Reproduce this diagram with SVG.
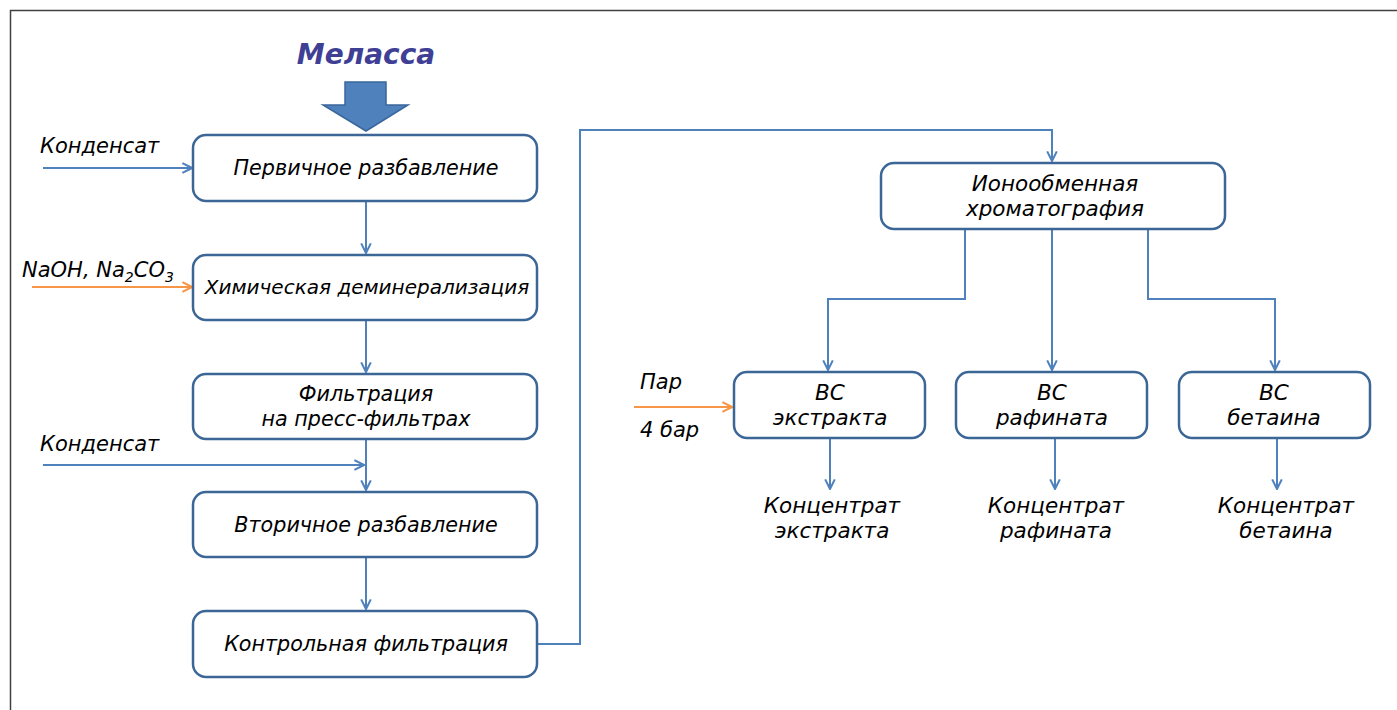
<svg xmlns="http://www.w3.org/2000/svg" width="1397" height="710" viewBox="0 0 1397 710">
<style>
.box{fill:#fff;stroke:#3b6696;stroke-width:2.5}
.t{font-family:"DejaVu Sans","Liberation Sans",sans-serif;font-style:italic;font-size:20.7px;fill:#000;text-anchor:middle}
.tb{font-family:"DejaVu Sans","Liberation Sans",sans-serif;font-style:italic;font-size:21.5px;fill:#000;text-anchor:middle}
.tl{font-family:"DejaVu Sans","Liberation Sans",sans-serif;font-style:italic;font-size:21px;fill:#000}
.c{fill:none;stroke:#4f81bd;stroke-width:2}
.o{fill:none;stroke:#f79646;stroke-width:2}
</style>
<defs>
<marker id="ab" viewBox="0 0 10 10" refX="9" refY="5" markerWidth="12" markerHeight="12" orient="auto" markerUnits="userSpaceOnUse">
<path d="M1,1 L9,5 L1,9" fill="none" stroke="#4f81bd" stroke-width="1.7"/>
</marker>
<marker id="ao" viewBox="0 0 10 10" refX="9" refY="5" markerWidth="12" markerHeight="12" orient="auto" markerUnits="userSpaceOnUse">
<path d="M1,1 L9,5 L1,9" fill="none" stroke="#f79646" stroke-width="1.7"/>
</marker>
</defs>
<rect x="0" y="0" width="1397" height="710" fill="#fff"/>
<path d="M10.5,710 V10.5 H1397" fill="none" stroke="#404040" stroke-width="1.5"/>

<g id="molasses">
<text x="366" y="64" font-family="DejaVu Sans,sans-serif" font-style="italic" font-weight="bold" font-size="28" fill="#3f3f96" text-anchor="middle">Меласса</text>
<path d="M345,82 H386 V105 H408 L366,131 L323,105 H345 Z" fill="#4f81bd" stroke="#3a679c" stroke-width="1.5"/>
</g>

<g id="connectors">
<path class="c" d="M43,168 H192" marker-end="url(#ab)"/>
<path class="o" d="M32,287 H192" marker-end="url(#ao)"/>
<path class="c" d="M43,465 H364" marker-end="url(#ab)"/>
<path class="c" d="M366,201 V253" marker-end="url(#ab)"/>
<path class="c" d="M366,320 V372" marker-end="url(#ab)"/>
<path class="c" d="M366,439 V490" marker-end="url(#ab)"/>
<path class="c" d="M366,557 V609" marker-end="url(#ab)"/>
<path class="c" d="M537,644 H580 V130 H1052 V161" marker-end="url(#ab)"/>
<path class="c" d="M965,229 V299 H828 V370" marker-end="url(#ab)"/>
<path class="c" d="M1052,229 V370" marker-end="url(#ab)"/>
<path class="c" d="M1148,229 V299 H1275 V370" marker-end="url(#ab)"/>
<path class="o" d="M634,407 H732" marker-end="url(#ao)"/>
<path class="c" d="M830,438 V489" marker-end="url(#ab)"/>
<path class="c" d="M1055,438 V489" marker-end="url(#ab)"/>
<path class="c" d="M1277,438 V489" marker-end="url(#ab)"/>
</g>

<g id="labels">
<text class="tl" x="40" y="153">Конденсат</text>
<text class="tl" x="22" y="277">NaOH, Na<tspan font-size="14" dy="5">2</tspan><tspan dy="-5">CO</tspan><tspan font-size="14" dy="5">3</tspan></text>
<text class="tl" x="40" y="451">Конденсат</text>
<text class="tl" x="640" y="389">Пар</text>
<text class="tl" x="640" y="437">4 бар</text>
</g>

<g id="n1"><rect class="box" x="193" y="135" width="344" height="66" rx="13"/><text class="t" x="366" y="175">Первичное разбавление</text></g>
<g id="n2"><rect class="box" x="193" y="255" width="344" height="65" rx="13"/><text class="t" x="367" y="294" style="font-size:20px">Химическая деминерализация</text></g>
<g id="n3"><rect class="box" x="193" y="374" width="344" height="65" rx="13"/><text class="t" x="366" y="401">Фильтрация</text><text class="t" x="366" y="426">на пресс-фильтрах</text></g>
<g id="n4"><rect class="box" x="193" y="492" width="344" height="65" rx="13"/><text class="t" x="366" y="532">Вторичное разбавление</text></g>
<g id="n5"><rect class="box" x="193" y="611" width="344" height="66" rx="13"/><text class="t" x="366" y="651">Контрольная фильтрация</text></g>
<g id="n6"><rect class="box" x="881" y="163" width="344" height="66" rx="13"/><text class="tb" x="1055" y="191">Ионообменная</text><text class="tb" x="1055" y="216">хроматография</text></g>
<g id="n7"><rect class="box" x="734" y="372" width="191" height="66" rx="13"/><text class="tb" x="830" y="400">ВС</text><text class="tb" x="830" y="425">экстракта</text></g>
<g id="n8"><rect class="box" x="956" y="372" width="191" height="66" rx="13"/><text class="tb" x="1052" y="400">ВС</text><text class="tb" x="1052" y="425">рафината</text></g>
<g id="n9"><rect class="box" x="1179" y="372" width="191" height="66" rx="13"/><text class="tb" x="1274" y="400">ВС</text><text class="tb" x="1274" y="425">бетаина</text></g>
<g id="p1"><text class="tb" x="832" y="513">Концентрат</text><text class="tb" x="832" y="538">экстракта</text></g>
<g id="p2"><text class="tb" x="1056" y="513">Концентрат</text><text class="tb" x="1056" y="538">рафината</text></g>
<g id="p3"><text class="tb" x="1286" y="513">Концентрат</text><text class="tb" x="1286" y="538">бетаина</text></g>
</svg>
